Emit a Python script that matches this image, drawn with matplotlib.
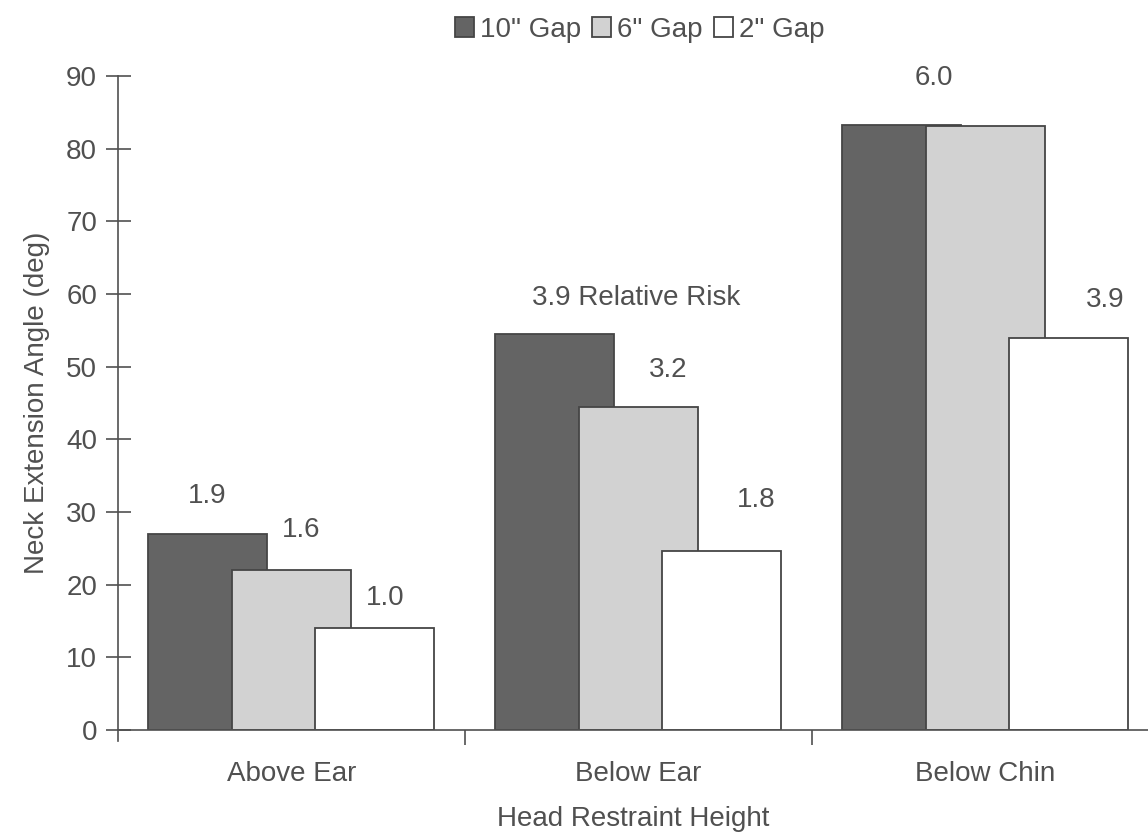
import matplotlib.pyplot as plt
import numpy as np

plt.rcParams["font.family"] = ["Liberation Sans", "DejaVu Sans"]

categories = ["Above Ear", "Below Ear", "Below Chin"]
series = ['10" Gap', '6" Gap', '2" Gap']
gap10 = [27, 54.5, 83.2]
gap6 = [22, 44.4, 83.1]
gap2 = [14, 24.6, 54]
risk10 = ["1.9", "3.9 Relative Risk", "6.0"]
risk6 = ["1.6", "3.2", ""]
risk2 = ["1.0", "1.8", "3.9"]

text_c = "#505050"
colors = ["#646464", "#d2d2d2", "#ffffff"]
offsets = [-0.242, 0.0, 0.24]
width = 0.343
fs = 20

fig = plt.figure(figsize=(11.48, 8.32), dpi=100)
ax = fig.add_axes([0.1028, 0.1226, 0.8972, 0.7861])

x = np.arange(len(categories))
handles = []
for vals, col, off, lab in zip([gap10, gap6, gap2], colors, offsets, series):
    h = ax.bar(x + off, vals, width, color=col, edgecolor="#454545",
               linewidth=1.3, label=lab)
    handles.append(h)

# relative risk label shifts in pixels (dx, dy above bar top)
shifts = [
    [(0, 38), (82, 36), (32, 47)],
    [(10, 40), (30, 37), (0, 0)],
    [(10, 30), (34, 51), (36, 38)],
]
for vals, labs, off, sh in zip([gap10, gap6, gap2], [risk10, risk6, risk2],
                               offsets, shifts):
    for i, (v, t) in enumerate(zip(vals, labs)):
        if not t:
            continue
        ax.annotate(t, (x[i] + off, v), xytext=sh[i],
                    textcoords="offset pixels", ha="center", va="center",
                    fontsize=fs, color=text_c)

ax.set_xlim(-0.5, 2.468)
ax.set_ylim(0, 90)
ax.set_yticks(np.arange(0, 91, 10))
ax.set_xticks([0.5, 1.5])
ax.set_xticklabels([])
ax.set_xticks(x, minor=True)
ax.set_xticklabels(categories, minor=True)
ax.tick_params(axis="x", which="major", direction="out", length=11,
               color="#505050", width=1.2)
ax.tick_params(axis="x", which="minor", length=0, pad=22, labelsize=fs,
               labelcolor=text_c)
ax.tick_params(axis="y", direction="inout", length=18, width=1.2,
               color="#505050", pad=6, labelsize=fs, labelcolor=text_c)

for s in ["top", "right"]:
    ax.spines[s].set_visible(False)
for s in ["left", "bottom"]:
    ax.spines[s].set_color("#505050")
    ax.spines[s].set_linewidth(1.2)
ax.spines["left"].set_bounds(-1.5, 90)
ax.set_clip_on(False)

ax.set_ylabel("Neck Extension Angle (deg)", fontsize=fs, color=text_c,
              labelpad=12)
ax.set_xlabel("Head Restraint Height", fontsize=fs, color=text_c, labelpad=14)

fig.legend(handles=handles, labels=series, loc="upper center",
           bbox_to_anchor=(0.557, 1.01), ncol=3, frameon=False, fontsize=fs,
           handlelength=0.7, handleheight=0.7, handletextpad=0.2,
           columnspacing=0.4, labelcolor=text_c)

fig.savefig("out.png", dpi=100)
